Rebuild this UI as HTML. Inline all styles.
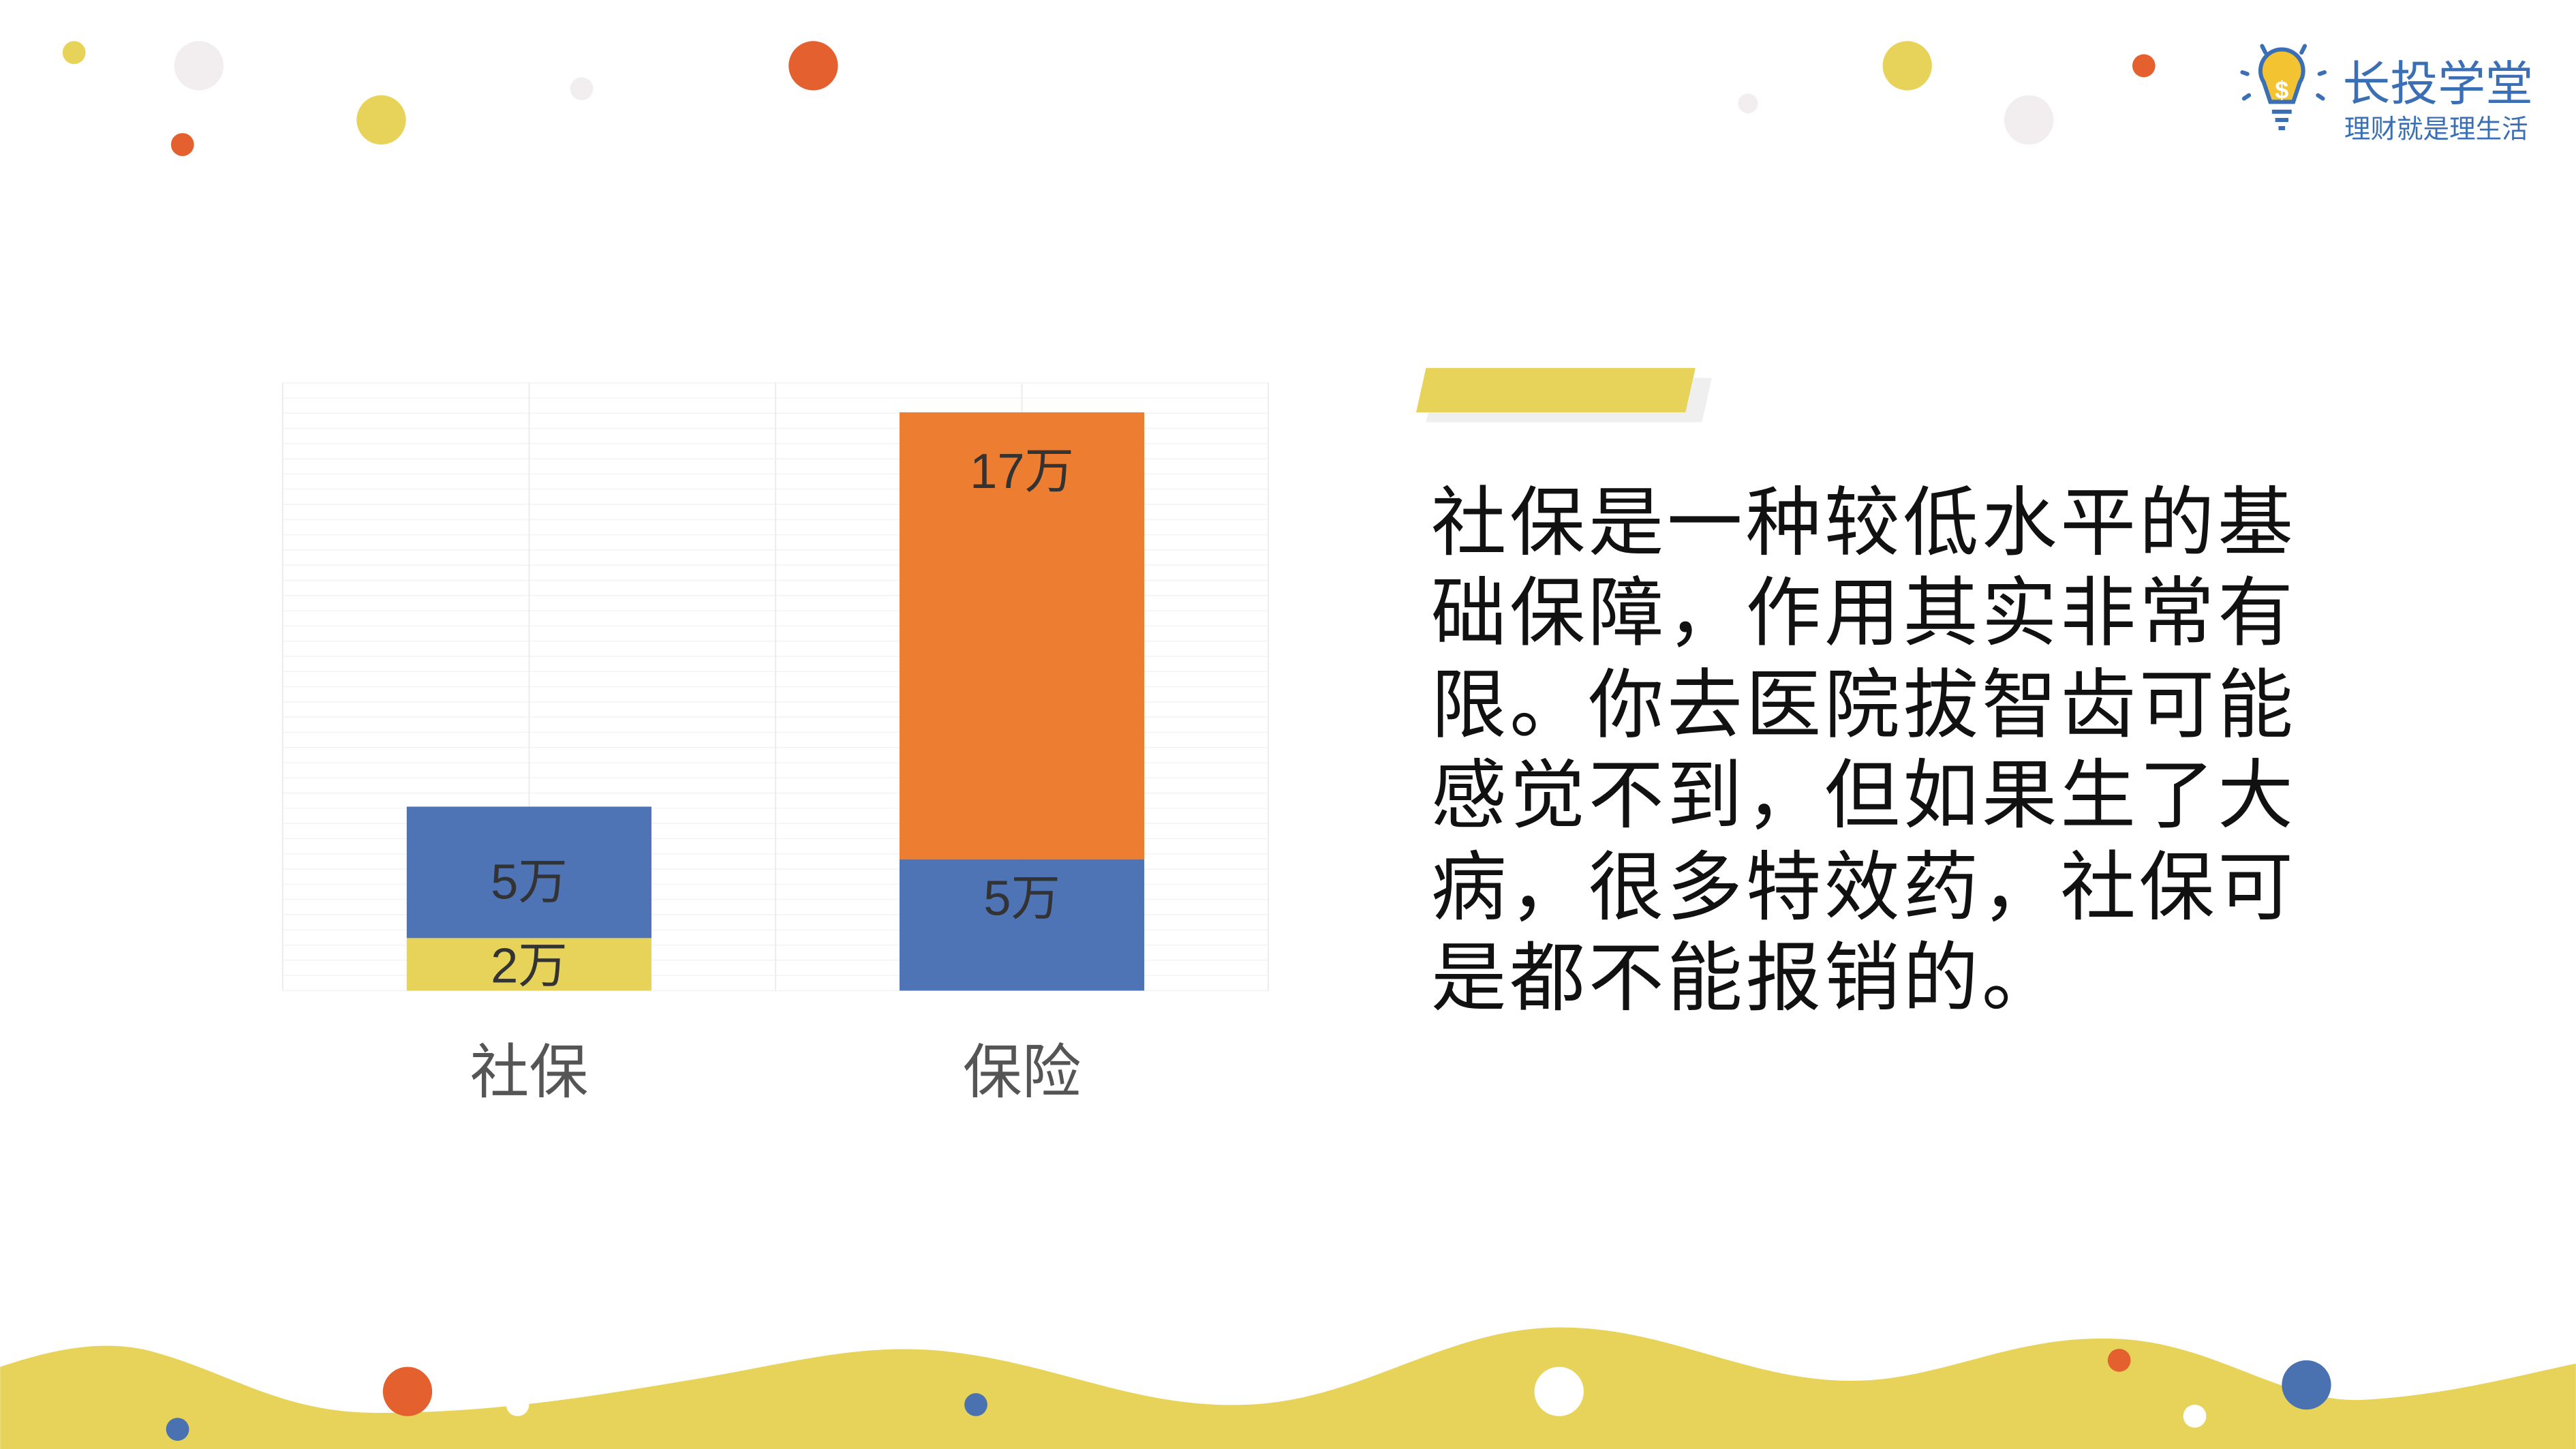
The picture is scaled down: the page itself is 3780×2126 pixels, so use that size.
<!DOCTYPE html>
<html><head><meta charset="utf-8"><style>
html,body{margin:0;padding:0;background:#fff;}
svg{display:block;}
text{font-family:"Liberation Sans","Noto Sans CJK SC",sans-serif;}
</style></head><body>
<svg id="root" width="3780" height="2126" viewBox="0 0 1568 882" xmlns="http://www.w3.org/2000/svg">
<g>
<circle cx="45" cy="32" r="7" fill="#e8d35a"/>
<circle cx="121" cy="40" r="15" fill="#f2eeef"/>
<circle cx="111" cy="88" r="7" fill="#e5602f"/>
<circle cx="232" cy="73" r="15" fill="#e8d35a"/>
<circle cx="354" cy="54" r="7" fill="#f2eeef"/>
<circle cx="495" cy="40" r="15" fill="#e5602f"/>
<circle cx="1064" cy="63" r="6" fill="#f2eeef"/>
<circle cx="1161" cy="40" r="15" fill="#e8d35a"/>
<circle cx="1235" cy="73" r="15" fill="#f2eeef"/>
<circle cx="1305" cy="40" r="7" fill="#e5602f"/>
</g>
<g>
<path d="M1378 50 a13 13 0 1 1 22 0 l-4 12 h-14 z" fill="#f3c331" stroke="#3a6fb5" stroke-width="2.5"/>
<text x="1389" y="60" font-size="15" fill="#fff" text-anchor="middle" font-weight="bold">$</text>
<line x1="1383" y1="68" x2="1395" y2="68" stroke="#3a6fb5" stroke-width="2.5"/>
<line x1="1385" y1="73" x2="1393" y2="73" stroke="#3a6fb5" stroke-width="2.5"/>
<line x1="1387" y1="78" x2="1391" y2="78" stroke="#3a6fb5" stroke-width="2.5"/>
<g stroke="#3a6fb5" stroke-width="2.5" stroke-linecap="round"><line x1="1377" y1="28" x2="1379" y2="32"/><line x1="1403" y1="28" x2="1401" y2="32"/><line x1="1365" y1="44" x2="1368" y2="45"/><line x1="1415" y1="44" x2="1412" y2="45"/><line x1="1366" y1="60" x2="1369" y2="58"/><line x1="1414" y1="60" x2="1411" y2="58"/></g>
<text x="1426" y="61" font-size="29" fill="#3a6fb5">长投学堂</text>
<text x="1427" y="84" font-size="16" fill="#3a6fb5">理财就是理生活</text>
</g>
<g id="chart"></g>
<g>
<polygon points="874,230 1042,230 1036,257 868,257" fill="#efefef"/>
<polygon points="868,224 1032,224 1026,251 862,251" fill="#e8d35a"/>
</g>
<g font-size="46" fill="#111" letter-spacing="1.9">
<text x="871" y="334">社保是一种较低水平的基</text>
<text x="871" y="389">础保障，作用其实非常有</text>
<text x="871" y="445">限。你去医院拔智齿可能</text>
<text x="871" y="500">感觉不到，但如果生了大</text>
<text x="871" y="556">病，很多特效药，社保可</text>
<text x="871" y="611">是都不能报销的。</text>
</g>
<path fill="#e8d35a" d="M0 832 C30 822 60 815 90 822 C140 835 170 860 230 860 C300 860 360 850 420 840 C480 830 520 818 570 822 C640 828 690 858 760 855 C830 852 880 808 950 808 C1020 808 1070 845 1140 840 C1190 836 1230 812 1290 815 C1350 818 1390 855 1440 852 C1490 849 1530 838 1568 830 L1568 882 L0 882 Z"/>
<g>
<circle cx="248" cy="847" r="15" fill="#e5602f"/>
<circle cx="315" cy="855" r="7" fill="#fff"/>
<circle cx="108" cy="870" r="7" fill="#4a72b0"/>
<circle cx="594" cy="855" r="7" fill="#4a72b0"/>
<circle cx="949" cy="847" r="15" fill="#fff"/>
<circle cx="1290" cy="828" r="7" fill="#e5602f"/>
<circle cx="1336" cy="862" r="7" fill="#fff"/>
<circle cx="1404" cy="843" r="15" fill="#4a72b0"/>
</g>
</svg>
<script>
const categories = ["社保", "保险"];
const seriesBottom = [2, 5];
const seriesTop = [5, 17];
const bottomLabels = ["2万", "5万"];
const topLabels = ["5万", "17万"];
(function(){
  const NS = "http://www.w3.org/2000/svg";
  const g = document.getElementById("chart");
  const L = 172, R = 772, T = 233, B = 603;
  const yMax = 22.5;
  const y = v => B - v / yMax * (B - T - 10);
  const band = (R - L) / categories.length;
  const xc = i => L + band * (i + 0.5);
  const bw = 149;
  const bottomColors = ["#e8d35a", "#4e74b5"];
  const topColors = ["#4e74b5", "#ed7d31"];
  function mk(tag, attrs){ const e = document.createElementNS(NS, tag); for (const k in attrs) e.setAttribute(k, attrs[k]); g.appendChild(e); return e; }
  for (let yy = T; yy <= B; yy += 9.25) {
    const l = mk("line", {x1:L, x2:R, y1:yy, y2:yy, stroke:"#f3f3f3", "stroke-width":0.6});
    
    
  }
  for (let i = 0; i <= 4; i++) {
    const xx = L + (R - L) / 4 * i;
    const l = mk("line", {x1:xx, x2:xx, y1:T, y2:B, stroke:"#ececec", "stroke-width":0.8});
    
    
  }
  categories.forEach((c, i) => {
    const x0 = xc(i) - bw / 2;
    const b = mk("rect", {x:x0, y:y(seriesBottom[i]), width:bw, height:B - y(seriesBottom[i]), fill:bottomColors[i]});
    
    
    const tp = mk("rect", {x:x0, y:y(seriesBottom[i] + seriesTop[i]), width:bw, height:y(seriesBottom[i]) - y(seriesBottom[i] + seriesTop[i]), fill:topColors[i]});
    
    
    const midB = (B + y(seriesBottom[i])) / 2;
    const t1 = mk("text", {x:xc(i), y: i === 0 ? midB + 11 : y(seriesBottom[i]) + 34, "font-size":30, fill:"#333", "text-anchor":"middle"});
    t1.textContent = bottomLabels[i];
    
    
    const topY = y(seriesBottom[i] + seriesTop[i]);
    const t2 = mk("text", {x:xc(i), y: i === 0 ? (topY + y(seriesBottom[i])) / 2 + 16 : topY + 46, "font-size":30, fill:"#333", "text-anchor":"middle"});
    t2.textContent = topLabels[i];
    
    
    const cl = mk("text", {x:xc(i), y:665, "font-size":36, fill:"#555", "text-anchor":"middle"});
    cl.textContent = c;
    
    
  });
})();
</script>
</body></html>
